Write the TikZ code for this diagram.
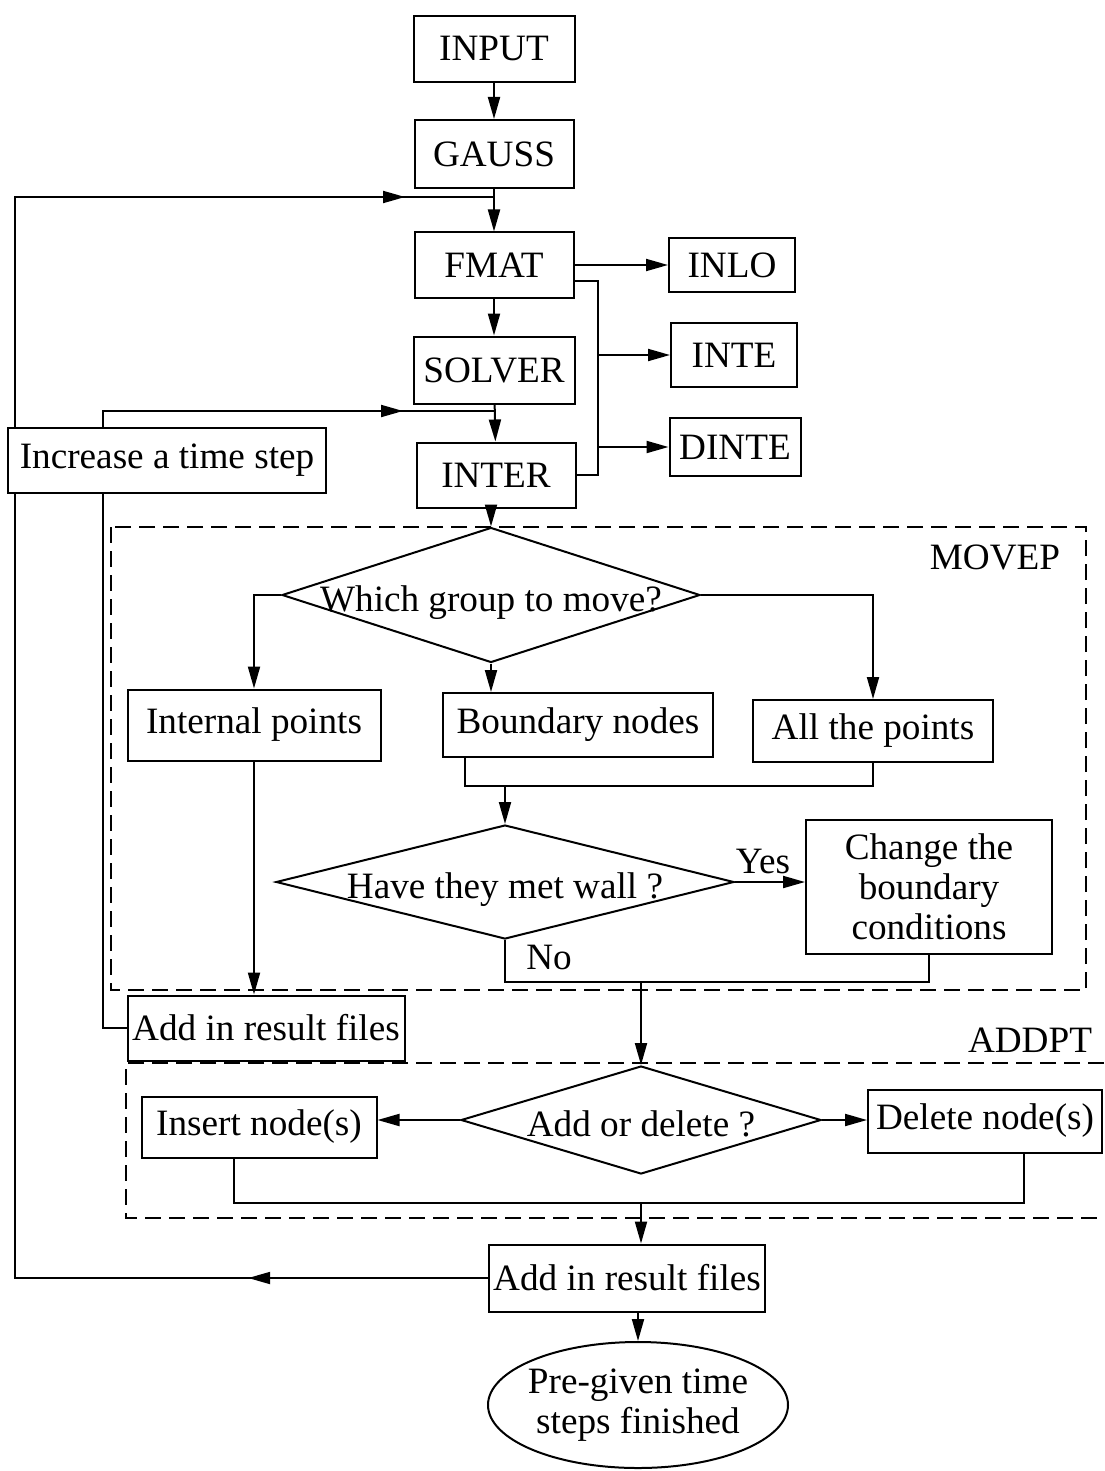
\documentclass[tikz,border=0pt]{standalone}
\usepackage{fontspec}
\setmainfont{Liberation Serif}
\usetikzlibrary{shapes.geometric,arrows.meta,decorations.markings}
\pgfdeclarelayer{background}
\pgfsetlayers{background,main}
\newcommand\decisiontext[1]{\makebox[0pt]{\smash{\raisebox{-8pt}{#1}}}}
\tikzset{
  box/.style={draw, fill=white, line width=1pt, inner sep=2pt},
  decision/.style={diamond, draw, fill=white, line width=1pt, inner sep=0pt},
  wire/.style={line width=1pt},
  arr/.style={line width=1pt, -{Triangle[length=11pt,width=6pt]}},
  tipat/.style={postaction={decorate, decoration={markings,
      mark=at position #1 with {\arrow{Triangle[length=11pt,width=6pt]}}}}},
  modbox/.style={line width=1pt, dash pattern=on 8pt off 4pt},
}
\begin{document}
\begin{tikzpicture}[x=0.5pt, y=-0.5pt, font=\fontsize{18.6}{20}\selectfont]
        \useasboundingbox (0,0) rectangle (1104,1471);
        % module frames
        \draw[modbox] (111,527) rectangle (1086,990);
        \draw[modbox] (1104,1063) -| (126,1218) -- (1104,1218);
        \node (movep) at (995,557) {MOVEP};
        \node (addpt) at (1030,1040) {ADDPT};

        \node[box, minimum width=80.5pt, minimum height=33pt] (input) at (494,49) {INPUT};
        \node[box, minimum width=79.5pt, minimum height=34pt] (gauss) at (494,154) {GAUSS};
        \node[box, minimum width=79.5pt, minimum height=32.5pt] (fmat) at (494,265) {FMAT};
        \node[box, minimum width=80.5pt, minimum height=33.5pt] (solver) at (494,370) {SOLVER};
        \node[box, minimum width=79.5pt, minimum height=32.5pt] (inter) at (496,475) {INTER};
        \node[box, minimum width=63pt, minimum height=27pt] (inlo) at (732,265) {INLO};
        \node[box, minimum width=63pt, minimum height=32pt] (inte) at (734,355) {INTE};
        \node[box, minimum width=65.5pt, minimum height=29pt] (dinte) at (735,447) {DINTE};
        \node[box, minimum width=159pt, minimum height=32.5pt] (incr) at (167,460) {Increase a time step};

        \node[decision, minimum width=209pt, minimum height=67.5pt] (which) at (491,595) {\decisiontext{Which group to move?}};
        \node[box, minimum width=126.5pt, minimum height=35.5pt] (internal) at (254,725) {Internal points};
        \node[box, minimum width=135pt, minimum height=32pt] (boundary) at (578,725) {Boundary nodes};
        \node[box, minimum width=120pt, minimum height=31pt] (allpts) at (873,731) {All the points};
        \node[decision, minimum width=229pt, minimum height=57pt] (wall) at (505,882) {\decisiontext{Have they met wall ?}};
        \node[box, minimum width=123pt, minimum height=67pt, align=center] (change) at (929,887) {Change the\\boundary\\conditions};
        \node (no) at (549,957) {No};
        \node[box, minimum width=138.5pt, minimum height=32.5pt] (res1) at (266,1028) {Add in result files};

        \node[decision, minimum width=180pt, minimum height=54pt] (addel) at (641,1120) {\decisiontext{Add or delete ?}};
        \node[box, minimum width=117.5pt, minimum height=30.5pt] (insert) at (259,1127) {Insert node(s)};
        \node[box, minimum width=117pt, minimum height=31.5pt] (delete) at (985,1121) {Delete node(s)};
        \node[box, minimum width=137.5pt, minimum height=33.5pt] (res2) at (627,1278) {Add in result files};
        \node[ellipse, draw, line width=1pt, inner sep=-2pt, minimum width=150pt, minimum height=63pt, align=center] (finish) at (638,1405) {Pre-given time\\steps finished};

        \coordinate (bus) at (598,0);
        \coordinate (m1) at (505,786);
        \coordinate (m2) at (641,982);
        \coordinate (m3) at (641,1203);
        \coordinate (loopA) at (15,197);
        \coordinate (loopB) at (103,411);

        \draw[arr] (input) -- (gauss);
        \draw[arr] (gauss) -- (fmat);
        \draw[arr] (fmat) -- (solver);
        \draw[arr] (solver) -- (inter);
        \draw[arr] (fmat.east) -- (inlo.west);
        \draw[wire] ([yshift=-8pt]fmat.east) -- ([yshift=-8pt]fmat.east -| bus) -- (bus |- inter.east) -- (inter.east);
        \draw[arr] (bus |- inte) -- (inte);
        \draw[arr] (bus |- dinte) -- (dinte);
        \draw[arr] (inter.south -| which.north) -- (which.north);

        \draw[arr] (which.west) -| (internal.north);
        \draw[arr] (which.south) -- (which.south |- boundary.north);
        \draw[arr] (which.east) -| (allpts.north);
        \draw[wire] ([xshift=-56.5pt]boundary.south) |- (m1) -| (allpts.south);
        \draw[arr] (m1) -- (wall.north);
        \draw[arr] (wall.east) -- node[above, pos=0.4] {Yes} (wall.east -| change.west);
        \draw[wire] (wall.south) |- (m2) -| (change.south);
        \draw[arr] (m2) -- (addel.north);
        \draw[arr] (internal.south) -- (internal.south |- res1.north);

        \draw[arr] (addel.west) -- (addel.west -| insert.east);
        \draw[arr] (addel.east) -- (addel.east -| delete.west);
        \draw[wire] ([xshift=-12.5pt]insert.south) |- (m3) -| ([xshift=19.5pt]delete.south);
        \draw[arr] (m3) -- (m3 |- res2.north);
        \draw[arr] (res2.south -| finish.north) -- (finish.north);

        % time step loops run behind the boxes
        \begin{pgfonlayer}{background}
        \draw[wire, tipat=120pt, tipat=-44.5pt] (res2.west) -| (loopA) -- (loopA -| fmat.north);
        \draw[wire, tipat=-46.5pt] (res1.west) -| (loopB) -- (loopB -| inter.north);
        \end{pgfonlayer}
    \end{tikzpicture}
\end{document}
